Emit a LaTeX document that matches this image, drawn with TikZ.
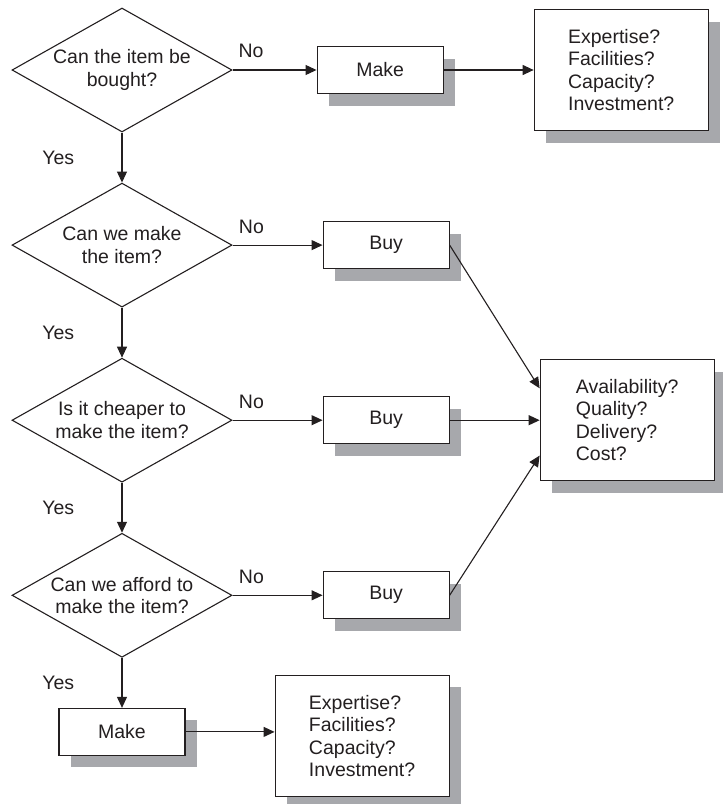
\documentclass[tikz,border=0pt]{standalone}
\usepackage{fontspec}
\setmainfont{Liberation Sans}
\usepackage{tikz}
\usetikzlibrary{shapes.geometric, arrows.meta, positioning, shadows}
\definecolor{inkblack}{RGB}{35,31,32}
\definecolor{shadowgrey}{RGB}{167,168,172}
\tikzset{
  question/.style={diamond, draw=inkblack, fill=white, aspect=1.77,
    minimum width=220pt, minimum height=124pt, inner sep=0pt,
    align=center, line width=1.1pt},
  choice/.style={rectangle, draw=inkblack, fill=white,
    minimum width=126pt, minimum height=47pt, line width=1.1pt,
    drop shadow={shadow xshift=12pt, shadow yshift=-12pt, opacity=1, fill=shadowgrey}},
  checklist/.style={rectangle, draw=inkblack, fill=white,
    minimum width=174pt, minimum height=121pt, align=left, line width=1.1pt,
    drop shadow={shadow xshift=12pt, shadow yshift=-12pt, opacity=1, fill=shadowgrey}},
  answer/.style={text=inkblack},
  arrow/.style={-{Triangle[length=11pt,width=10pt]}, line width=1.1pt, color=inkblack},
  line/.style={line width=1.1pt, color=inkblack}
}
\begin{document}
\begin{tikzpicture}[x=1pt, y=1pt, node distance=50pt and 90pt,
  font=\fontsize{19.5pt}{22.5pt}\selectfont, text=inkblack]
  \useasboundingbox (0,0) rectangle (723,-804);

  % Questions
  \node[question] (q1) at (122,-70) {Can the item be\\bought?};
  \node[question, below=of q1] (q2) {Can we make\\the item?};
  \node[question, below=of q2] (q3) {Is it cheaper to\\make the item?};
  \node[question, below=of q3] (q4) {Can we afford to\\make the item?};

  % Outcomes
  \node[choice, right=84pt of q1] (make1) {Make};
  \node[checklist, right=of make1] (exp1) {Expertise?\\Facilities?\\Capacity?\\Investment?};
  \node[choice, right=of q2] (buy1) {Buy};
  \node[choice, right=of q3] (buy2) {Buy};
  \node[choice, right=of q4] (buy3) {Buy};
  \node[checklist, right=of buy2] (avail) {Availability?\\Quality?\\Delivery?\\Cost?};
  \node[choice, below=of q4] (make2) {Make};
  \node[checklist, right=89pt of make2, yshift=-4pt] (exp2) {Expertise?\\Facilities?\\Capacity?\\Investment?};

  % Paths
  \draw[arrow] (q1) -- node[answer, midway, left=44pt] {Yes} (q2);
  \draw[arrow] (q2) -- node[answer, midway, left=44pt] {Yes} (q3);
  \draw[arrow] (q3) -- node[answer, midway, left=44pt] {Yes} (q4);
  \draw[arrow] (q4) -- node[answer, midway, left=44pt] {Yes} (make2);

  \draw[arrow] (q1) -- node[answer, pos=0.22, above=8pt] {No} (make1);
  \draw[arrow] (q2) -- node[answer, pos=0.21, above=8pt] {No} (buy1);
  \draw[arrow] (q3) -- node[answer, pos=0.21, above=8pt] {No} (buy2);
  \draw[arrow] (q4) -- node[answer, pos=0.21, above=8pt] {No} (buy3);

  \draw[arrow] (make1) -- (exp1);
  \draw[arrow] (buy1.east) -- (avail.160);
  \draw[arrow] (buy2) -- (avail);
  \draw[arrow] (buy3.east) -- (avail.202);
  \draw[arrow] (make2) -- (make2 -| exp2.west);
\end{tikzpicture}
\end{document}
